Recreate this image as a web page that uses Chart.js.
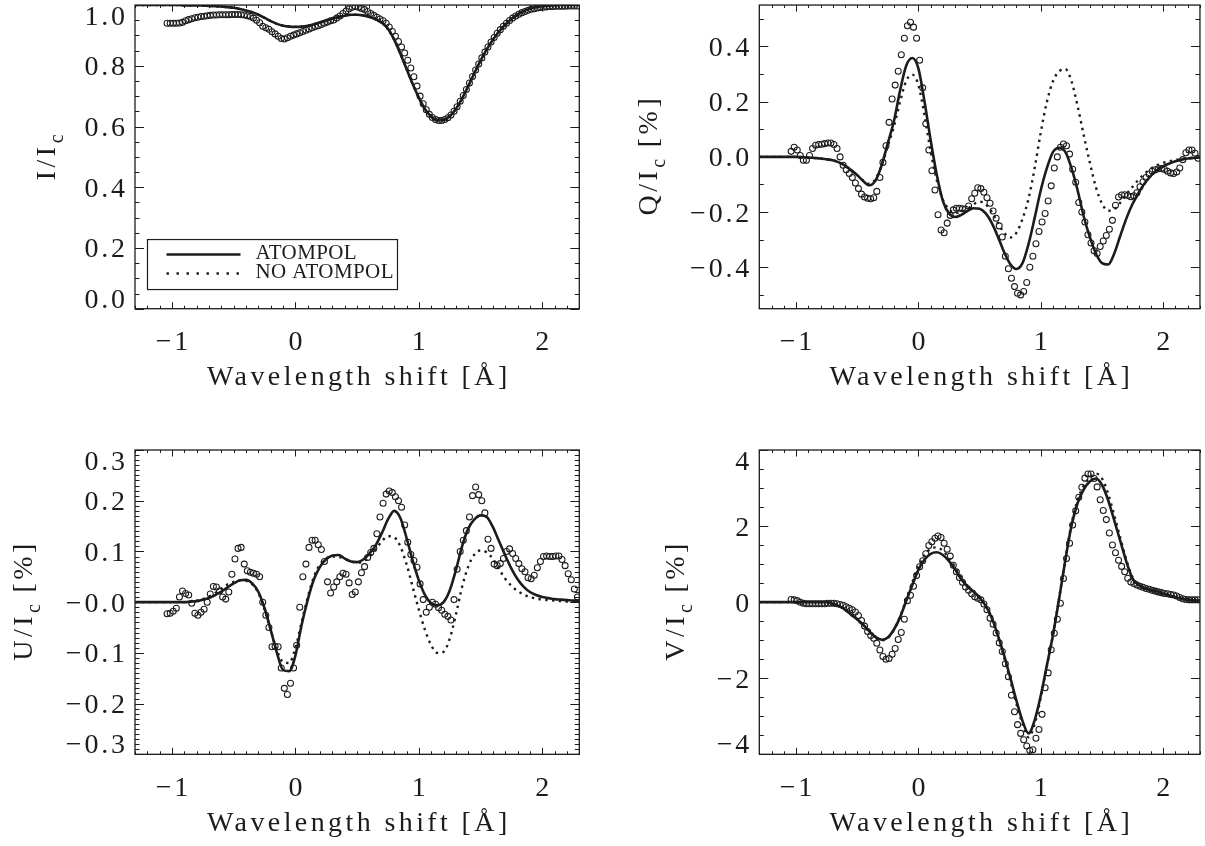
<!DOCTYPE html>
<html>
<head>
<meta charset="utf-8">
<script src="https://cdn.jsdelivr.net/npm/chart.js@4.4.1/dist/chart.umd.min.js"></script>
<style>
  html, body { margin: 0; padding: 0; background: #fff; }
  #wrap { position: relative; width: 1205px; height: 846px; overflow: hidden; }
  #wrap canvas { position: absolute; left: 0; top: 0; }
</style>
</head>
<body>
<div id="wrap">
  <canvas id="panelI" width="1205" height="846"></canvas>
  <canvas id="panelQ" width="1205" height="846"></canvas>
  <canvas id="panelU" width="1205" height="846"></canvas>
  <canvas id="panelV" width="1205" height="846"></canvas>
</div>
<script>
// wavelength sampling (Å): observations every 0.025 from -1.04, synthetic profiles every 0.05 from -1.3
const obsStart = -1.04, obsStep = 0.025, obsCount = 134;
const modelStart = -1.3, modelStep = 0.05, modelCount = 73;

const xTicks = [-1, 0, 1, 2];
const xTickLabels = ['\u22121', '0', '1', '2'];

const iTicks = [0, 0.2, 0.4, 0.6, 0.8, 1.0];
const iTickLabels = ['0.0', '0.2', '0.4', '0.6', '0.8', '1.0'];
const qTicks = [-0.4, -0.2, 0, 0.2, 0.4];
const qTickLabels = ['\u22120.4', '\u22120.2', '0.0', '0.2', '0.4'];
const uTicks = [-0.3, -0.2, -0.1, 0, 0.1, 0.2, 0.3];
const uTickLabels = ['\u22120.3', '\u22120.2', '\u22120.1', '\u22120.0', '0.1', '0.2', '0.3'];
const vTicks = [-4, -2, 0, 2, 4];
const vTickLabels = ['\u22124', '\u22122', '0', '2', '4'];

// Stokes I / Ic
const iObserved = [
  0.94, 0.94, 0.94, 0.94, 0.941, 0.943, 0.948, 0.952, 0.955, 0.958,
  0.96, 0.962, 0.963, 0.965, 0.966, 0.967, 0.967, 0.968, 0.968, 0.968,
  0.968, 0.969, 0.969, 0.969, 0.968, 0.967, 0.965, 0.962, 0.957, 0.95,
  0.942, 0.93, 0.925, 0.92, 0.912, 0.905, 0.897, 0.89, 0.888, 0.892,
  0.897, 0.901, 0.905, 0.909, 0.913, 0.917, 0.921, 0.925, 0.929, 0.932,
  0.936, 0.94, 0.944, 0.948, 0.951, 0.957, 0.964, 0.972, 0.98, 0.988,
  0.993, 0.995, 0.993, 0.989, 0.985, 0.979, 0.972, 0.966, 0.96, 0.954,
  0.948, 0.94, 0.928, 0.913, 0.897, 0.88, 0.862, 0.842, 0.818, 0.793,
  0.764, 0.733, 0.7, 0.675, 0.655, 0.64, 0.63, 0.623, 0.62, 0.62,
  0.623, 0.629, 0.638, 0.65, 0.665, 0.683, 0.702, 0.722, 0.743, 0.765,
  0.786, 0.806, 0.826, 0.845, 0.862, 0.878, 0.893, 0.907, 0.919, 0.93,
  0.94, 0.949, 0.957, 0.964, 0.97, 0.975, 0.979, 0.983, 0.986, 0.988,
  0.99, 0.992, 0.993, 0.994, 0.995, 0.995, 0.996, 0.996, 0.996, 0.996,
  0.997, 0.997, 0.997, 0.997
];
const iAtompol = [
  1.0, 1.0, 1.0, 1.0, 1.0, 1.0, 1.0, 1.0, 0.999, 0.999,
  0.999, 0.998, 0.997, 0.996, 0.995, 0.993, 0.991, 0.987, 0.982, 0.976,
  0.968, 0.958, 0.947, 0.938, 0.932, 0.929, 0.928, 0.929, 0.932, 0.937,
  0.943, 0.949, 0.955, 0.961, 0.965, 0.968, 0.968, 0.966, 0.961, 0.953,
  0.942, 0.922, 0.886, 0.84, 0.79, 0.74, 0.695, 0.657, 0.633, 0.621,
  0.622, 0.634, 0.658, 0.692, 0.733, 0.776, 0.817, 0.854, 0.886, 0.913,
  0.935, 0.954, 0.969, 0.98, 0.988, 0.993, 0.996, 0.998, 0.999, 1.0,
  1.0, 1.0, 1.0
];
const iNoAtompol = iAtompol.slice(); // intensity is not affected by atomic polarization

// Stokes Q / Ic [%]
const qObserved = [
  0.02, 0.035, 0.025, 0.005, -0.012, -0.012, 0.005, 0.03, 0.042, 0.045,
  0.046, 0.048, 0.05, 0.05, 0.045, 0.03, 0.0, -0.03, -0.047, -0.06,
  -0.075, -0.095, -0.115, -0.135, -0.145, -0.15, -0.152, -0.148, -0.125, -0.075,
  -0.02, 0.04, 0.125, 0.21, 0.26, 0.31, 0.37, 0.43, 0.475, 0.488,
  0.47, 0.43, 0.35, 0.25, 0.12, 0.025, -0.05, -0.12, -0.21, -0.265,
  -0.275, -0.24, -0.212, -0.192, -0.186, -0.186, -0.188, -0.19, -0.178, -0.152,
  -0.132, -0.112, -0.115, -0.128, -0.148, -0.168, -0.196, -0.222, -0.25, -0.29,
  -0.36, -0.405, -0.44, -0.47, -0.494, -0.5, -0.488, -0.455, -0.4, -0.36,
  -0.315, -0.27, -0.236, -0.205, -0.16, -0.105, -0.04, 0.0, 0.035, 0.047,
  0.04, 0.01, -0.045, -0.092, -0.165, -0.2, -0.236, -0.282, -0.312, -0.34,
  -0.35, -0.325, -0.305, -0.285, -0.262, -0.23, -0.175, -0.145, -0.138, -0.137,
  -0.14, -0.144, -0.141, -0.13, -0.108, -0.09, -0.075, -0.062, -0.052, -0.047,
  -0.043, -0.042, -0.046, -0.052, -0.058, -0.06, -0.055, -0.04, -0.01, 0.015,
  0.025, 0.025, 0.013, -0.005
];
const qAtompol = [
  0, 0, 0, 0, 0, 0, 0, -0.001, -0.002, -0.004,
  -0.006, -0.009, -0.012, -0.02, -0.032, -0.048, -0.066, -0.088, -0.103, -0.085,
  -0.03, 0.05, 0.13, 0.24, 0.33, 0.358, 0.32, 0.2, 0.06, -0.065,
  -0.16, -0.205, -0.218, -0.21, -0.196, -0.186, -0.188, -0.205, -0.24, -0.29,
  -0.345, -0.388, -0.406, -0.385, -0.315, -0.22, -0.12, -0.04, 0.018, 0.033,
  0.018, -0.04, -0.12, -0.215, -0.29, -0.35, -0.385, -0.39, -0.35, -0.285,
  -0.222, -0.17, -0.13, -0.095, -0.068, -0.048, -0.034, -0.024, -0.016, -0.01,
  -0.006, -0.004, -0.002
];
const qNoAtompol = [
  0, 0, 0, 0, 0, 0, 0, -0.001, -0.002, -0.004,
  -0.006, -0.009, -0.012, -0.02, -0.032, -0.048, -0.066, -0.086, -0.098, -0.08,
  -0.03, 0.04, 0.11, 0.2, 0.275, 0.298, 0.26, 0.15, 0.02, -0.085,
  -0.155, -0.19, -0.203, -0.2, -0.19, -0.172, -0.162, -0.172, -0.2, -0.24,
  -0.275, -0.292, -0.275, -0.225, -0.15, -0.04, 0.09, 0.2, 0.275, 0.31,
  0.318, 0.275, 0.185, 0.08, -0.02, -0.11, -0.17, -0.195, -0.19, -0.165,
  -0.135, -0.108, -0.082, -0.06, -0.042, -0.03, -0.022, -0.016, -0.011, -0.008,
  -0.005, -0.003, -0.002
];

// Stokes U / Ic [%]
const uObserved = [
  -0.023, -0.022, -0.018, -0.012, 0.01, 0.022, 0.017, 0.014, -0.002, -0.022,
  -0.026, -0.02, -0.014, 0.0, 0.016, 0.031, 0.03, 0.022, 0.01, 0.006,
  0.02, 0.055, 0.085, 0.106, 0.108, 0.075, 0.062, 0.059, 0.057, 0.055,
  0.05, 0.0, -0.026, -0.05, -0.088, -0.087, -0.088, -0.13, -0.17, -0.182,
  -0.16, -0.13, -0.085, -0.01, 0.05, 0.075, 0.108, 0.122, 0.122, 0.113,
  0.104, 0.08, 0.04, 0.018, 0.03, 0.04, 0.05, 0.057, 0.055, 0.038,
  0.015, 0.02, 0.04, 0.058, 0.07, 0.088, 0.098, 0.106, 0.135, 0.168,
  0.195, 0.213, 0.219, 0.216, 0.208, 0.2, 0.187, 0.152, 0.118, 0.094,
  0.082, 0.069, 0.036, 0.005, -0.02, -0.01, 0.0, -0.004, -0.011, -0.016,
  -0.024, -0.028, -0.035, 0.005, 0.065, 0.1, 0.122, 0.141, 0.168, 0.21,
  0.227, 0.212, 0.2, 0.176, 0.124, 0.106, 0.075, 0.072, 0.076, 0.086,
  0.1, 0.105, 0.096, 0.086, 0.076, 0.066, 0.06, 0.048, 0.046, 0.053,
  0.068, 0.08, 0.09, 0.091, 0.09, 0.09, 0.091, 0.091, 0.084, 0.072,
  0.056, 0.044, 0.026, 0.01
];
const uAtompol = [
  0, 0, 0, 0, 0, 0, 0, 0, 0, 0.001,
  0.002, 0.005, 0.008, 0.014, 0.021, 0.029, 0.037, 0.043, 0.044, 0.037,
  0.02, -0.012, -0.055, -0.1, -0.134, -0.136, -0.105, -0.045, 0.005, 0.045,
  0.07, 0.085, 0.092, 0.093, 0.086, 0.08, 0.079, 0.084, 0.096, 0.112,
  0.136, 0.163, 0.18, 0.166, 0.127, 0.082, 0.043, 0.014, -0.002, -0.006,
  0.0, 0.023, 0.063, 0.11, 0.145, 0.163, 0.171, 0.168, 0.148, 0.12,
  0.092, 0.066, 0.045, 0.03, 0.02, 0.014, 0.01, 0.008, 0.006, 0.005,
  0.004, 0.003, 0.003
];
const uNoAtompol = [
  0, 0, 0, 0, 0, 0, 0, 0, 0, 0.001,
  0.003, 0.006, 0.011, 0.018, 0.027, 0.035, 0.04, 0.043, 0.042, 0.035,
  0.018, -0.015, -0.055, -0.095, -0.118, -0.12, -0.09, -0.04, 0.01, 0.05,
  0.075, 0.086, 0.09, 0.089, 0.085, 0.08, 0.078, 0.08, 0.09, 0.104,
  0.12, 0.13, 0.128, 0.11, 0.075, 0.03, -0.015, -0.055, -0.085, -0.1,
  -0.098, -0.072, -0.025, 0.03, 0.07, 0.094, 0.102, 0.098, 0.085, 0.065,
  0.046, 0.032, 0.022, 0.015, 0.01, 0.007, 0.005, 0.004, 0.003, 0.002,
  0.001, 0.001, 0
];

// Stokes V / Ic [%]
const vObserved = [
  0.07, 0.06, 0.04, 0.0, -0.03, -0.04, -0.04, -0.04, -0.04, -0.04,
  -0.04, -0.04, -0.03, -0.03, -0.03, -0.04, -0.06, -0.08, -0.12, -0.16,
  -0.2, -0.26, -0.35, -0.48, -0.63, -0.77, -0.88, -0.95, -1.08, -1.26,
  -1.43, -1.5, -1.48, -1.37, -1.22, -0.98, -0.8, -0.45, 0.04, 0.18,
  0.42, 0.7, 0.93, 1.09, 1.27, 1.49, 1.59, 1.68, 1.74, 1.7,
  1.55, 1.39, 1.21, 0.97, 0.8, 0.65, 0.52, 0.4, 0.31, 0.22,
  0.14, 0.1, 0.06, -0.05, -0.2, -0.42, -0.58, -0.81, -1.07, -1.3,
  -1.62, -1.96, -2.45, -2.88, -3.22, -3.45, -3.62, -3.78, -3.9, -3.88,
  -3.58, -3.35, -2.95, -2.25, -1.86, -1.25, -0.82, -0.45, -0.03, 0.62,
  1.15, 1.55, 2.03, 2.4, 2.76, 3.02, 3.26, 3.37, 3.37, 3.25,
  3.03, 2.69, 2.41, 2.17, 1.82, 1.5, 1.3, 1.1, 0.94, 0.8,
  0.63, 0.53, 0.49, 0.45, 0.42, 0.39, 0.36, 0.34, 0.31, 0.29,
  0.27, 0.25, 0.23, 0.22, 0.2, 0.19, 0.16, 0.12, 0.09, 0.07,
  0.06, 0.06, 0.06, 0.06
];
const vAtompol = [
  0, 0, 0, 0, 0, 0, 0, 0, 0, 0,
  0, 0, -0.04, -0.1, -0.2, -0.33, -0.45, -0.6, -0.77, -0.92,
  -0.99, -0.93, -0.72, -0.4, 0.03, 0.45, 0.85, 1.12, 1.27, 1.31,
  1.24, 1.08, 0.86, 0.6, 0.41, 0.28, 0.12, -0.1, -0.42, -0.88,
  -1.4, -1.98, -2.58, -3.12, -3.45, -3.1, -2.45, -1.65, -0.85, 0.1,
  1.1, 2.0, 2.6, 2.96, 3.17, 3.25, 3.08, 2.68, 2.15, 1.6,
  1.05, 0.62, 0.45, 0.37, 0.32, 0.28, 0.23, 0.18, 0.13, 0.09,
  0.06, 0.05, 0.04
];
const vNoAtompol = [
  0, 0, 0, 0, 0, 0, 0, 0, 0, 0,
  0, 0, -0.04, -0.1, -0.2, -0.33, -0.46, -0.61, -0.78, -0.93,
  -1.0, -0.94, -0.72, -0.38, 0.07, 0.52, 0.95, 1.24, 1.4, 1.44,
  1.35, 1.16, 0.92, 0.65, 0.44, 0.3, 0.13, -0.1, -0.44, -0.92,
  -1.46, -2.05, -2.66, -3.2, -3.55, -3.2, -2.5, -1.68, -0.85, 0.12,
  1.12, 2.05, 2.68, 3.06, 3.28, 3.38, 3.25, 2.85, 2.28, 1.68,
  1.1, 0.65, 0.47, 0.38, 0.33, 0.29, 0.24, 0.19, 0.14, 0.1,
  0.07, 0.05, 0.04
];

const INK = '#1c1c1c';
const SERIF = '"Liberation Serif", "Times New Roman", serif';
const PAGE_W = 1205, PAGE_H = 846;

function wavelengths(start, step, n) {
  const out = [];
  for (let i = 0; i < n; i++) out.push(+(start + i * step).toFixed(4));
  return out;
}
const obsWave = wavelengths(obsStart, obsStep, obsCount);
const modelWave = wavelengths(modelStart, modelStep, modelCount);

function toPoints(xs, ys) {
  return ys.map((y, i) => ({ x: xs[i], y }));
}

const panels = [
  { canvas: 'panelI', box: [135, 5, 579.3, 308.7], yMin: 0, yMax: 1.0, minor: 0.05,
    ticks: iTicks, tickLabels: iTickLabels, title: ['I/I', 'c', ''], titleX: 55,
    obs: iObserved, atompol: iAtompol, noAtompol: iNoAtompol, legend: true },
  { canvas: 'panelQ', box: [759.3, 5, 1203.3, 308.7], yMin: -0.55, yMax: 0.55, minor: 0.1,
    ticks: qTicks, tickLabels: qTickLabels, title: ['Q/I', 'c', ' [%]'], titleX: 657,
    obs: qObserved, atompol: qAtompol, noAtompol: qNoAtompol },
  { canvas: 'panelU', box: [135, 450, 579.3, 754.3], yMin: -0.3, yMax: 0.3, minor: 0.01,
    ticks: uTicks, tickLabels: uTickLabels, title: ['U/I', 'c', ' [%]'], titleX: 32,
    obs: uObserved, atompol: uAtompol, noAtompol: uNoAtompol },
  { canvas: 'panelV', box: [759.3, 450, 1203.3, 754.3], yMin: -4, yMax: 4, minor: 0.5,
    ticks: vTicks, tickLabels: vTickLabels, title: ['V/I', 'c', ' [%]'], titleX: 684,
    obs: vObserved, atompol: vAtompol, noAtompol: vNoAtompol }
];

function font(ctx, size, spacing) {
  ctx.font = size + 'px ' + SERIF;
  ctx.letterSpacing = (spacing || 0) + 'px';
}

function textWidth(ctx, s, spacing) {
  return ctx.measureText(s).width - (s.length ? (spacing || 0) : 0);
}

// IDL-style box: ticks on all four sides, labels on left and bottom
const stokesFrame = {
  id: 'stokesFrame',
  afterDraw(chart, args, p) {
    const ctx = chart.ctx;
    const a = chart.chartArea;
    const xs = chart.scales.x, ys = chart.scales.y;
    ctx.save();
    ctx.strokeStyle = INK;
    ctx.fillStyle = INK;
    ctx.textAlign = 'left';
    ctx.textBaseline = 'alphabetic';

    ctx.lineWidth = 1;
    ctx.beginPath();
    for (let k = -13; k <= 23; k++) {
      const px = Math.round(xs.getPixelForValue(k / 10)) + 0.5;
      const len = k % 10 === 0 ? 6.5 : 3;
      ctx.moveTo(px, a.bottom); ctx.lineTo(px, a.bottom - len);
      ctx.moveTo(px, a.top); ctx.lineTo(px, a.top + len);
    }
    const k0 = Math.ceil(p.yMin / p.minor - 1e-6), k1 = Math.floor(p.yMax / p.minor + 1e-6);
    for (let k = k0; k <= k1; k++) {
      const v = k * p.minor;
      const major = p.ticks.some(t => Math.abs(t - v) < p.minor / 10);
      const py = Math.round(ys.getPixelForValue(v)) + 0.5;
      const len = major ? 9 : 4.5;
      ctx.moveTo(a.left, py); ctx.lineTo(a.left + len, py);
      ctx.moveTo(a.right, py); ctx.lineTo(a.right - len, py);
    }
    ctx.stroke();

    ctx.lineWidth = 1.3;
    ctx.strokeRect(a.left, a.top, a.right - a.left, a.bottom - a.top);

    // y tick labels, kept inside the axis span at the ends
    const sp = 2.8;
    font(ctx, 28, sp);
    p.ticks.forEach((t, i) => {
      const s = p.tickLabels[i];
      let cy = ys.getPixelForValue(t);
      cy = Math.min(Math.max(cy, a.top + 10.5), a.bottom - 10.5);
      const w = textWidth(ctx, s, sp);
      ctx.fillText(s, a.left - 10 - w, cy + 9.5);
    });

    // x tick labels and title
    xTicks.forEach((t, i) => {
      const s = xTickLabels[i];
      const w = textWidth(ctx, s, sp);
      ctx.fillText(s, xs.getPixelForValue(t) - w / 2, a.bottom + 41.5);
    });
    font(ctx, 28, 3.4);
    const xt = 'Wavelength shift [\u00c5]';
    const xw = textWidth(ctx, xt, 3.4);
    ctx.fillText(xt, (a.left + a.right) / 2 - xw / 2, a.bottom + 76.5);

    // rotated y title with subscript
    const [main, sub, tail] = p.title;
    ctx.translate(p.titleX, (a.top + a.bottom) / 2);
    ctx.rotate(-Math.PI / 2);
    font(ctx, 28, 3.5);
    const w1 = ctx.measureText(main).width;
    const w3 = tail ? textWidth(ctx, tail, 3.5) : 0;
    font(ctx, 20, 1);
    const w2 = ctx.measureText(sub).width;
    const x0 = -(w1 + w2 + w3) / 2;
    font(ctx, 28, 3.5);
    ctx.fillText(main, x0, 0);
    font(ctx, 20, 1);
    ctx.fillText(sub, x0 + w1, 7.5);
    if (tail) {
      font(ctx, 28, 3.5);
      ctx.fillText(tail, x0 + w1 + w2, 0);
    }
    ctx.setTransform(1, 0, 0, 1, 0, 0);

    if (p.legend) {
      const ds = chart.data.datasets;
      const bx = a.left + 12.5, by = a.top + 234.5, bw = 250, bh = 50;
      ctx.lineWidth = 1.2;
      ctx.strokeRect(bx, by, bw, bh);
      ctx.lineWidth = 2.6;
      ctx.beginPath();
      ctx.moveTo(bx + 19, by + 15); ctx.lineTo(bx + 93, by + 15);
      ctx.stroke();
      ctx.lineWidth = 2.4;
      ctx.setLineDash([2.4, 7.6]);
      ctx.beginPath();
      ctx.moveTo(bx + 19, by + 34); ctx.lineTo(bx + 95, by + 34);
      ctx.stroke();
      ctx.setLineDash([]);
      font(ctx, 21, 0.4);
      ctx.fillText(ds[1].label, bx + 108, by + 19.5);
      ctx.fillText(ds[2].label, bx + 108, by + 38.5);
    }
    ctx.restore();
  }
};

function makePanel(p) {
  const [left, top, right, bottom] = p.box;
  return new Chart(document.getElementById(p.canvas), {
    type: 'scatter',
    data: {
      datasets: [
        {
          label: 'observed',
          data: toPoints(obsWave, p.obs),
          showLine: false,
          pointStyle: 'circle',
          pointRadius: 3,
          pointBorderWidth: 1.05,
          pointBorderColor: INK,
          pointBackgroundColor: 'rgba(0,0,0,0)',
          clip: 0,
          order: 2
        },
        {
          label: 'ATOMPOL',
          data: toPoints(modelWave, p.atompol),
          showLine: true,
          borderColor: INK,
          borderWidth: 2.6,
          pointRadius: 0,
          cubicInterpolationMode: 'monotone',
          clip: 0,
          order: 1
        },
        {
          label: 'NO ATOMPOL',
          data: toPoints(modelWave, p.noAtompol),
          showLine: true,
          borderColor: INK,
          borderWidth: 2.4,
          borderDash: [2.4, 4.4],
          pointRadius: 0,
          cubicInterpolationMode: 'monotone',
          clip: 0,
          order: 0
        }
      ]
    },
    options: {
      responsive: false,
      animation: false,
      events: [],
      layout: { padding: { left, top, right: PAGE_W - right, bottom: PAGE_H - bottom } },
      scales: {
        x: { type: 'linear', min: -1.3, max: 2.3, display: false },
        y: { type: 'linear', min: p.yMin, max: p.yMax, display: false }
      },
      plugins: {
        legend: { display: false },
        tooltip: { enabled: false },
        stokesFrame: p
      }
    },
    plugins: [stokesFrame]
  });
}

panels.forEach(makePanel);
</script>
</body>
</html>
